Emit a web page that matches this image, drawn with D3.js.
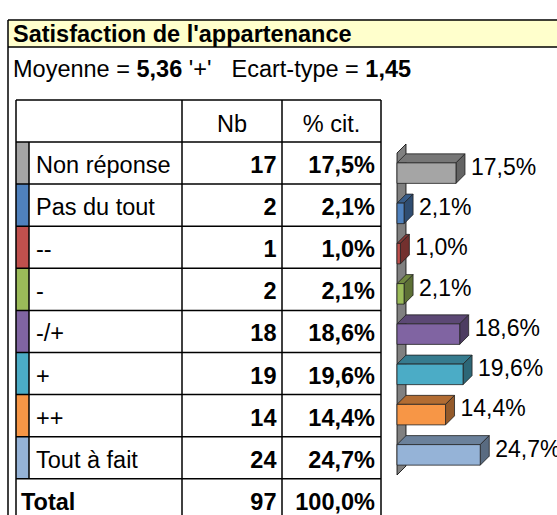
<!DOCTYPE html>
<html>
<head>
<meta charset="utf-8">
<script src="https://cdn.jsdelivr.net/npm/d3@7"></script>
<style>
  html, body { margin: 0; padding: 0; background: #fff; }
  svg { display: block; font-family: "Liberation Sans", Arial, sans-serif; }
</style>
</head>
<body>
<svg id="chart" width="557" height="515"></svg>
<script>
// ---- Data ----
const titleText = "Satisfaction de l'appartenance";
const meanValue = "5,36";
const meanLabel = "'+'";
const sdValue = "1,45";
const headers = ["Nb", "% cit."];
const categories = ["Non réponse", "Pas du tout", "--", "-", "-/+", "+", "++", "Tout à fait"];
const counts = [17, 2, 1, 2, 18, 19, 14, 24];
const percents = [17.5, 2.1, 1.0, 2.1, 18.6, 19.6, 14.4, 24.7];
const totalLabel = "Total";
const totalCount = 97;
const totalPercent = 100.0;
const colors = ["#A5A5A5", "#4F81BD", "#C0504D", "#9BBB59", "#8064A2", "#4BACC6", "#F79646", "#95B3D7"];

const fmtPct = v => d3.format(".1f")(v).replace(".", ",") + "%";

const svg = d3.select("#chart");
const FS = 23.5;

// ---- Frame & title band ----
svg.append("rect").attr("x", 8).attr("y", 20).attr("width", 560).attr("height", 27)
  .attr("fill", "#FFFFCC");
svg.append("line").attr("x1", 8).attr("x2", 557).attr("y1", 20).attr("y2", 20).attr("stroke", "#000").attr("stroke-width", 1.5);
svg.append("line").attr("x1", 8).attr("x2", 557).attr("y1", 47).attr("y2", 47).attr("stroke", "#000").attr("stroke-width", 1.5);
svg.append("line").attr("x1", 8).attr("x2", 8).attr("y1", 20).attr("y2", 515).attr("stroke", "#000").attr("stroke-width", 1.5);

svg.append("text").attr("x", 13).attr("y", 42).attr("font-size", FS).attr("font-weight", "bold")
  .attr("fill", "#000").text(titleText);

const sub = svg.append("text").attr("x", 13).attr("y", 77).attr("font-size", FS).attr("fill", "#000")
  .style("white-space", "pre");
sub.append("tspan").text("Moyenne = ");
sub.append("tspan").attr("font-weight", "bold").text(meanValue);
sub.append("tspan").text(" " + meanLabel);
sub.append("tspan").attr("dx", 20).text("Ecart-type = ");
sub.append("tspan").attr("font-weight", "bold").text(sdValue);

// ---- Table ----
const tableTop = 100, headerH = 42, rowH = 42.1;
const colX = [16, 29, 182, 282, 381]; // table left, swatch right, label right, Nb right, %cit right
const nRows = categories.length;
const rowTop = i => tableTop + headerH + i * rowH;
const tableBottom = rowTop(nRows + 1);
const tg = svg.append("g");

// swatches
categories.forEach((c, i) => {
  tg.append("rect").attr("x", colX[0]).attr("y", rowTop(i)).attr("width", colX[1] - colX[0]).attr("height", rowH)
    .attr("fill", colors[i]);
});

const line = (x1, y1, x2, y2) => tg.append("line").attr("x1", x1).attr("y1", y1).attr("x2", x2).attr("y2", y2)
  .attr("stroke", "#000").attr("stroke-width", 1.5);

// horizontal lines
line(colX[0], tableTop, colX[4], tableTop);
for (let i = 0; i <= nRows + 1; i++) line(colX[0], rowTop(i), colX[4], rowTop(i));
// vertical lines
line(colX[0], tableTop, colX[0], tableBottom);
line(colX[1], rowTop(0), colX[1], rowTop(nRows));
line(colX[2], tableTop, colX[2], tableBottom);
line(colX[3], tableTop, colX[3], tableBottom);
line(colX[4], tableTop, colX[4], tableBottom);

// header
tg.append("text").attr("x", (colX[2] + colX[3]) / 2).attr("y", tableTop + 31.5).attr("text-anchor", "middle")
  .attr("font-size", FS).text(headers[0]);
tg.append("text").attr("x", (colX[3] + colX[4]) / 2).attr("y", tableTop + 31.5).attr("text-anchor", "middle")
  .attr("font-size", FS).text(headers[1]);

categories.forEach((c, i) => {
  const y = rowTop(i) + 31;
  tg.append("text").attr("x", colX[1] + 7).attr("y", y).attr("font-size", FS).text(c);
  tg.append("text").attr("x", colX[3] - 5.5).attr("y", y).attr("text-anchor", "end")
    .attr("font-size", FS).attr("font-weight", "bold").text(counts[i]);
  tg.append("text").attr("x", colX[4] - 6).attr("y", y).attr("text-anchor", "end")
    .attr("font-size", FS).attr("font-weight", "bold").text(fmtPct(percents[i]));
});
{
  const y = rowTop(nRows) + 31;
  tg.append("text").attr("x", colX[0] + 5).attr("y", y).attr("font-size", FS).attr("font-weight", "bold").text(totalLabel);
  tg.append("text").attr("x", colX[3] - 5.5).attr("y", y).attr("text-anchor", "end")
    .attr("font-size", FS).attr("font-weight", "bold").text(totalCount);
  tg.append("text").attr("x", colX[4] - 6).attr("y", y).attr("text-anchor", "end")
    .attr("font-size", FS).attr("font-weight", "bold").text(fmtPct(totalPercent));
}

// ---- 3D bar chart ----
const depth = 9;
const x = d3.scaleLinear().domain([0, 25]).range([397, 481.25]);
const y = d3.scaleBand().domain(categories).range([153, 475]).paddingInner(0.49).paddingOuter(0.245);
const bw = y.bandwidth();
const x0 = x(0);
const bg = svg.append("g");

// wall
const [yr0, yr1] = y.range();
bg.append("path")
  .attr("d", `M${x0},${yr0} L${x0 + depth},${yr0 - depth} L${x0 + depth},${yr1 - depth} L${x0},${yr1} Z`)
  .attr("fill", "#808080").attr("stroke", "#000").attr("stroke-width", 0.8);

const shade = (c, k) => { const o = d3.rgb(c); return d3.rgb(o.r * k, o.g * k, o.b * k).formatHex(); };

categories.forEach((c, i) => {
  const yt = y(c), x1 = x(percents[i]);
  const g = bg.append("g").attr("stroke", "#222").attr("stroke-width", 0.8).attr("stroke-linejoin", "round");
  // top face
  g.append("path")
    .attr("d", `M${x0},${yt} L${x1},${yt} L${x1 + depth},${yt - depth} L${x0 + depth},${yt - depth} Z`)
    .attr("fill", shade(colors[i], 0.72));
  // side face
  g.append("path")
    .attr("d", `M${x1},${yt} L${x1 + depth},${yt - depth} L${x1 + depth},${yt + bw - depth} L${x1},${yt + bw} Z`)
    .attr("fill", shade(colors[i], 0.6));
  // front face
  g.append("rect").attr("x", x0).attr("y", yt).attr("width", x1 - x0).attr("height", bw)
    .attr("fill", colors[i]);
  // label
  bg.append("text").attr("x", x1 + depth + 6).attr("y", yt + 12).attr("font-size", 23)
    .attr("fill", "#000").text(fmtPct(percents[i]));
});
</script>
</body>
</html>
